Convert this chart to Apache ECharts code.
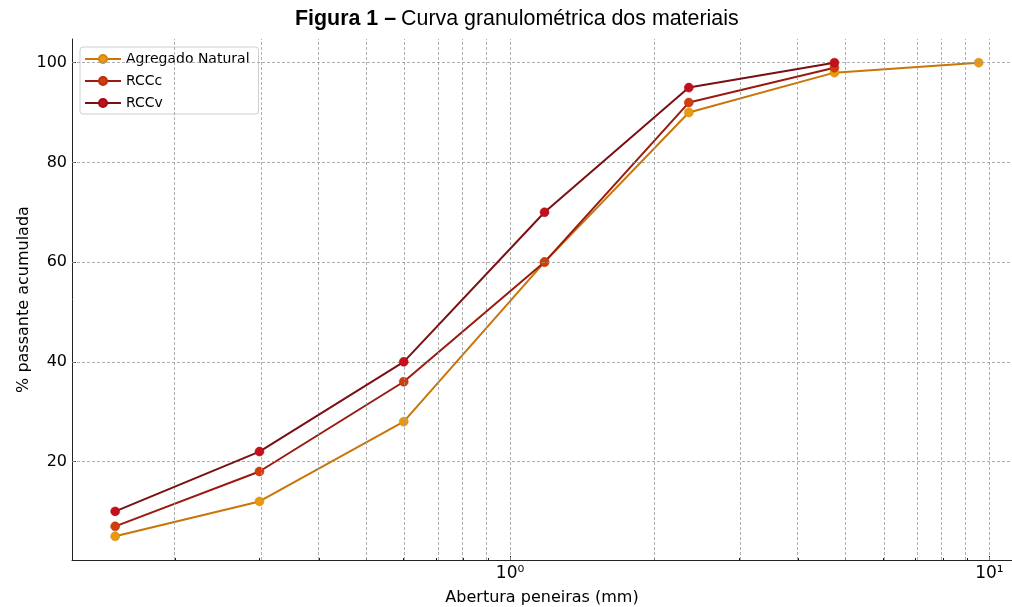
<!DOCTYPE html>
<html>
<head>
<meta charset="utf-8">
<script src="https://cdn.jsdelivr.net/npm/echarts@6/dist/echarts.min.js"></script>
<style>
  html, body { margin: 0; padding: 0; background: #fff; }
  #chart { width: 1012px; height: 607px; }
</style>
</head>
<body>
<div id="chart"></div>
<script>
// aberturas das peneiras (mm)
var sieves = [0.15, 0.3, 0.6, 1.18, 2.36, 4.75, 9.5];
var natural = [5, 12, 28, 60, 90, 98, 100];
var rccc = [7, 18, 36, 60, 92, 99];
var rccv = [10, 22, 40, 70, 95, 100];
var yTicks = [20, 40, 60, 80, 100];
var xMajor = [1, 10];
var xMinor = [0.2, 0.3, 0.4, 0.5, 0.6, 0.7, 0.8, 0.9, 2, 3, 4, 5, 6, 7, 8, 9];

var lg = function(v) { return Math.log10(v); };
function pairs(vals) {
  return vals.map(function(v, i) { return [lg(sieves[i]), v]; });
}

var chart = echarts.init(document.getElementById("chart"));

var gridStyle = { color: "#9a9a9a", width: 0.8, type: [3, 2] };
var gridLines = [];
xMajor.concat(xMinor).forEach(function(v) { gridLines.push({ xAxis: lg(v) }); });
yTicks.forEach(function(v) { gridLines.push({ yAxis: v }); });

// eixo log: margem de 5% como no matplotlib, cortado na borda direita
var logMin = lg(0.15) - 0.05 * lg(9.5 / 0.15);
var logMax = logMin + 940 / 479.3;

var option = {
  backgroundColor: "#fff",
  animation: false,
  title: {
    text: "{b|Figura 1 –} {n|Curva granulométrica dos materiais}",
    left: 290,
    top: 4,
    textStyle: {
      fontWeight: "normal",
      rich: {
        b: { fontFamily: "Liberation Sans", fontWeight: "bold", fontSize: 21.4, color: "#000" },
        n: { fontFamily: "Liberation Sans", fontWeight: "normal", fontSize: 21.4, color: "#000" }
      }
    }
  },
  legend: {
    orient: "vertical",
    left: 80,
    top: 47,
    data: ["Agregado Natural", "RCCc", "RCCv"],
    itemWidth: 36,
    itemHeight: 10,
    itemGap: 8,
    padding: [5, 9, 4, 4],
    borderColor: "#cfcfcf",
    borderWidth: 1,
    borderRadius: 3,
    backgroundColor: "rgba(255,255,255,0.85)",
    textStyle: { fontFamily: "DejaVu Sans", fontSize: 14, color: "#000" }
  },
  grid: { left: 72, right: 0, top: 39, bottom: 47, outerBoundsMode: "none", containLabel: false },
  xAxis: [
    {
      type: "value",
      min: logMin,
      max: logMax,
      name: "Abertura peneiras (mm)",
      nameLocation: "middle",
      nameGap: 30,
      nameTextStyle: { fontFamily: "DejaVu Sans", fontSize: 16, color: "#000" },
      axisLine: { onZero: false, lineStyle: { color: "#222", width: 1 } },
      axisTick: { inside: true, length: 4, customValues: [0, 1], lineStyle: { color: "#222" } },
      axisLabel: {
        customValues: [0, 1],
        margin: 5,
        fontFamily: "DejaVu Sans",
        fontSize: 17,
        color: "#000",
        formatter: function(v) { return v < 0.5 ? "10⁰" : "10¹"; }
      },
      splitLine: { show: false }
    },
    {
      type: "value",
      position: "bottom",
      min: logMin,
      max: logMax,
      axisLine: { show: false, onZero: false },
      axisTick: { inside: true, length: 2, customValues: xMinor.map(lg), lineStyle: { color: "#222" } },
      axisLabel: { show: false },
      splitLine: { show: false }
    }
  ],
  yAxis: {
    type: "value",
    min: 0.25,
    max: 104.75,
    name: "% passante acumulada",
    nameLocation: "middle",
    nameGap: 40,
    nameMoveOverlap: false,
    nameTextStyle: { fontFamily: "DejaVu Sans", fontSize: 16, color: "#000" },
    axisLine: { show: true, onZero: false, lineStyle: { color: "#222", width: 1 } },
    axisTick: { show: true, inside: true, length: 4, customValues: yTicks, lineStyle: { color: "#222" } },
    axisLabel: {
      customValues: yTicks,
      margin: 5,
      fontFamily: "DejaVu Sans",
      fontSize: 16,
      color: "#000"
    },
    splitLine: { show: false }
  },
  series: [
    {
      name: "grade",
      type: "line",
      data: [],
      silent: true,
      z: 1,
      markLine: {
        silent: true,
        symbol: "none",
        label: { show: false },
        lineStyle: gridStyle,
        animation: false,
        data: gridLines
      }
    },
    {
      name: "Agregado Natural",
      type: "line",
      data: pairs(natural),
      symbol: "circle",
      symbolSize: 9,
      lineStyle: { color: "#c97508", width: 2 },
      itemStyle: { color: "#e8990f", borderColor: "#d9860a", borderWidth: 0.5 },
      z: 3
    },
    {
      name: "RCCc",
      type: "line",
      data: pairs(rccc),
      symbol: "circle",
      symbolSize: 9,
      lineStyle: { color: "#9a1a10", width: 2 },
      itemStyle: { color: "#cf3e0c", borderColor: "#b8300c", borderWidth: 0.5 },
      z: 4
    },
    {
      name: "RCCv",
      type: "line",
      data: pairs(rccv),
      symbol: "circle",
      symbolSize: 9,
      lineStyle: { color: "#7a1014", width: 2 },
      itemStyle: { color: "#c4101c", borderColor: "#a00d18", borderWidth: 0.5 },
      z: 5
    }
  ]
};

chart.setOption(option);
</script>
</body>
</html>
